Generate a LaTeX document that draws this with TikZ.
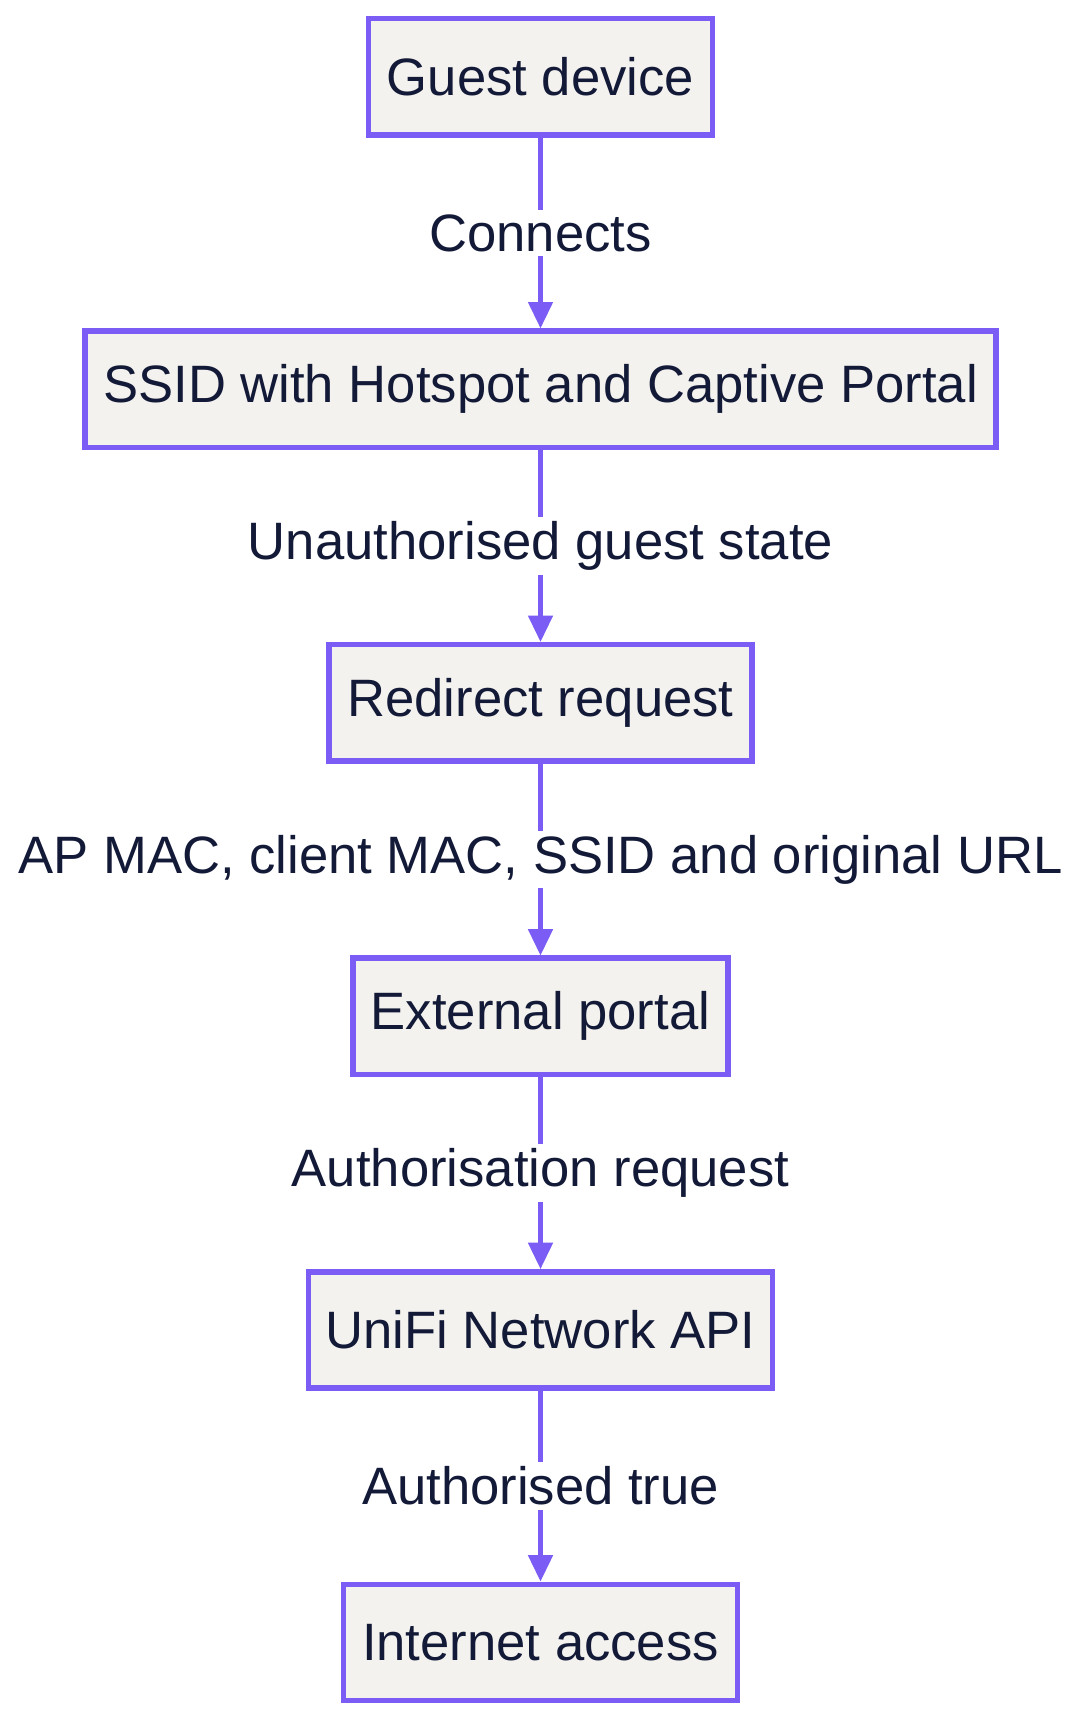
\documentclass[tikz,border=0pt]{standalone}
\usepackage{fontspec}
\setmainfont{Liberation Sans}
\usetikzlibrary{arrows.meta}
\definecolor{bord}{HTML}{7B5CF5}
\definecolor{fillc}{HTML}{F4F2EE}
\definecolor{txt}{HTML}{131A38}
\begin{document}
\begin{tikzpicture}[x=1pt,y=-1pt,
  box/.style={draw=bord,fill=fillc,line width=5pt,inner sep=0pt,minimum height=106pt,text=txt,font=\fontsize{48}{52}\selectfont},
  lab/.style={fill=white,text=txt,inner sep=4pt,font=\fontsize{48}{52}\selectfont},
  conn/.style={draw=bord,line width=4pt,-{Triangle[length=24pt,width=22pt]}}]
\useasboundingbox (0,0) rectangle (985,1567);
\node[box,minimum width=314pt] (a) at (493,70) {\raisebox{-6pt}{Guest device}};
\node[box,minimum width=831pt] (b) at (493,355) {\raisebox{-6pt}{SSID with Hotspot and Captive Portal}};
\node[box,minimum width=386pt] (c) at (493,641) {\raisebox{-6pt}{Redirect request}};
\node[box,minimum width=342pt] (d) at (493,927) {\raisebox{-6pt}{External portal}};
\node[box,minimum width=423pt] (e) at (493,1213) {\raisebox{-6pt}{UniFi Network API}};
\node[box,minimum width=359pt] (f) at (493,1498) {\raisebox{-6pt}{Internet access}};
\draw[conn] (a) -- node[lab]{\raisebox{-5pt}{Connects}} (b);
\draw[conn] (b) -- node[lab]{\raisebox{-5pt}{Unauthorised guest state}} (c);
\draw[conn] (c) -- node[lab]{\raisebox{-5pt}{AP MAC, client MAC, SSID and original URL}} (d);
\draw[conn] (d) -- node[lab]{\raisebox{-5pt}{Authorisation request}} (e);
\draw[conn] (e) -- node[lab]{\raisebox{-5pt}{Authorised true}} (f);
\end{tikzpicture}
\end{document}
